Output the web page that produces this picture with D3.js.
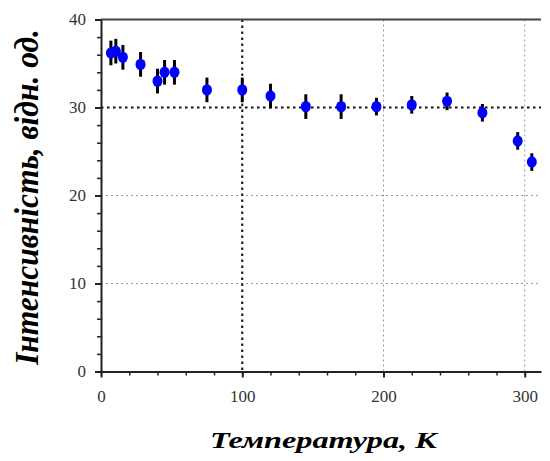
<!DOCTYPE html>
<html>
<head>
<meta charset="utf-8">
<script src="https://cdn.jsdelivr.net/npm/d3@7"></script>
<style>
  html, body { margin: 0; padding: 0; background: #fff; }
  svg { display: block; }
</style>
</head>
<body>
<svg id="chart" width="550" height="461"></svg>
<script>
// Temperature (K), intensity (arb. units) and its uncertainty
const temperatures = [7, 10.5, 15.5, 28, 40, 45, 52, 75, 100, 120, 145, 170, 195, 220, 245, 270, 295, 305];
const intensities  = [36.2, 36.4, 35.7, 34.9, 33.0, 34.0, 34.0, 32.0, 32.0, 31.3, 30.1, 30.1, 30.1, 30.3, 30.7, 29.4, 26.2, 23.8];
const errors       = [1.4, 1.4, 1.4, 1.4, 1.4, 1.4, 1.4, 1.4, 1.4, 1.4, 1.4, 1.4, 1.0, 1.0, 1.0, 1.0, 1.0, 1.0];

const xTicks = [0, 100, 200, 300];
const yTicks = [0, 10, 20, 30, 40];
const xMinorTicks = d3.range(0, 311, 20);
const yMinorTicks = d3.range(0, 41, 2);
const xTitle = "Температура, К";
const yTitle = "Інтенсивність, відн. од.";

const plotLeft = 101, plotRight = 541, plotTop = 19.5, plotBottom = 371.5;
const x = d3.scaleLinear().domain([0, 311.5]).range([plotLeft, plotRight]);
const y = d3.scaleLinear().domain([0, 40]).range([plotBottom, plotTop]);

const svg = d3.select("#chart");
const font = "Liberation Serif";

// grid: light dotted lines, with darker reference lines at 100 K and 30
const grid = svg.append("g");
[200, 300].forEach(v => grid.append("line")
  .attr("x1", x(v)).attr("x2", x(v)).attr("y1", plotTop).attr("y2", plotBottom)
  .attr("stroke", "#999").attr("stroke-width", 1).attr("stroke-dasharray", "2,3"));
[10, 20].forEach(v => grid.append("line")
  .attr("x1", plotLeft).attr("x2", plotRight).attr("y1", y(v)).attr("y2", y(v))
  .attr("stroke", "#999").attr("stroke-width", 1).attr("stroke-dasharray", "2,3"));
grid.append("line")
  .attr("x1", x(100)).attr("x2", x(100)).attr("y1", plotTop).attr("y2", plotBottom)
  .attr("stroke", "#111").attr("stroke-width", 2).attr("stroke-dasharray", "2.5,3.5");
grid.append("line")
  .attr("x1", plotLeft).attr("x2", plotRight).attr("y1", y(30)).attr("y2", y(30))
  .attr("stroke", "#111").attr("stroke-width", 2).attr("stroke-dasharray", "2.5,3.5");

// top frame line
svg.append("line")
  .attr("x1", plotLeft).attr("x2", plotRight).attr("y1", plotTop).attr("y2", plotTop)
  .attr("stroke", "#444").attr("stroke-width", 2);

// minor ticks
svg.append("g").attr("transform", `translate(0,${plotBottom})`)
  .call(d3.axisBottom(x).tickValues(xMinorTicks).tickSize(4).tickFormat(""))
  .call(g => g.select(".domain").remove())
  .selectAll("line").attr("stroke", "#222").attr("stroke-width", 1.5);
svg.append("g").attr("transform", `translate(${plotLeft},0)`)
  .call(d3.axisLeft(y).tickValues(yMinorTicks).tickSize(4).tickFormat(""))
  .call(g => g.select(".domain").remove())
  .selectAll("line").attr("stroke", "#222").attr("stroke-width", 1.5);

// major axes
const xAxis = svg.append("g").attr("transform", `translate(0,${plotBottom})`)
  .call(d3.axisBottom(x).tickValues(xTicks).tickSize(6).tickPadding(12).tickSizeOuter(0));
const yAxis = svg.append("g").attr("transform", `translate(${plotLeft},0)`)
  .call(d3.axisLeft(y).tickValues(yTicks).tickSize(6).tickPadding(9).tickSizeOuter(0));
[xAxis, yAxis].forEach(a => {
  a.attr("font-family", font).attr("font-size", 17);
  a.select(".domain").attr("stroke", "#222").attr("stroke-width", 2);
  a.selectAll(".tick line").attr("stroke", "#222").attr("stroke-width", 2);
  a.selectAll(".tick text").attr("fill", "#333");
});

// error bars
svg.append("g").selectAll("line").data(temperatures).join("line")
  .attr("x1", (d) => x(d)).attr("x2", (d) => x(d))
  .attr("y1", (d, i) => y(intensities[i] - errors[i]))
  .attr("y2", (d, i) => y(intensities[i] + errors[i]))
  .attr("stroke", "#000").attr("stroke-width", 3);

// markers
svg.append("g").selectAll("ellipse").data(temperatures).join("ellipse")
  .attr("cx", (d) => x(d)).attr("cy", (d, i) => y(intensities[i]))
  .attr("rx", 5).attr("ry", 5.7)
  .attr("fill", "#0000ff");

// axis titles
svg.append("text")
  .attr("x", 210).attr("y", 448)
  .attr("textLength", 227).attr("lengthAdjust", "spacingAndGlyphs")
  .attr("font-family", font).attr("font-size", 24)
  .attr("font-weight", "bold").attr("font-style", "italic")
  .attr("fill", "#000")
  .text(xTitle);

svg.append("text")
  .attr("transform", "translate(38,365) rotate(-90)")
  .attr("textLength", 336).attr("lengthAdjust", "spacingAndGlyphs")
  .attr("font-family", font).attr("font-size", 34)
  .attr("font-weight", "bold").attr("font-style", "italic")
  .attr("fill", "#000")
  .text(yTitle);
</script>
</body>
</html>
